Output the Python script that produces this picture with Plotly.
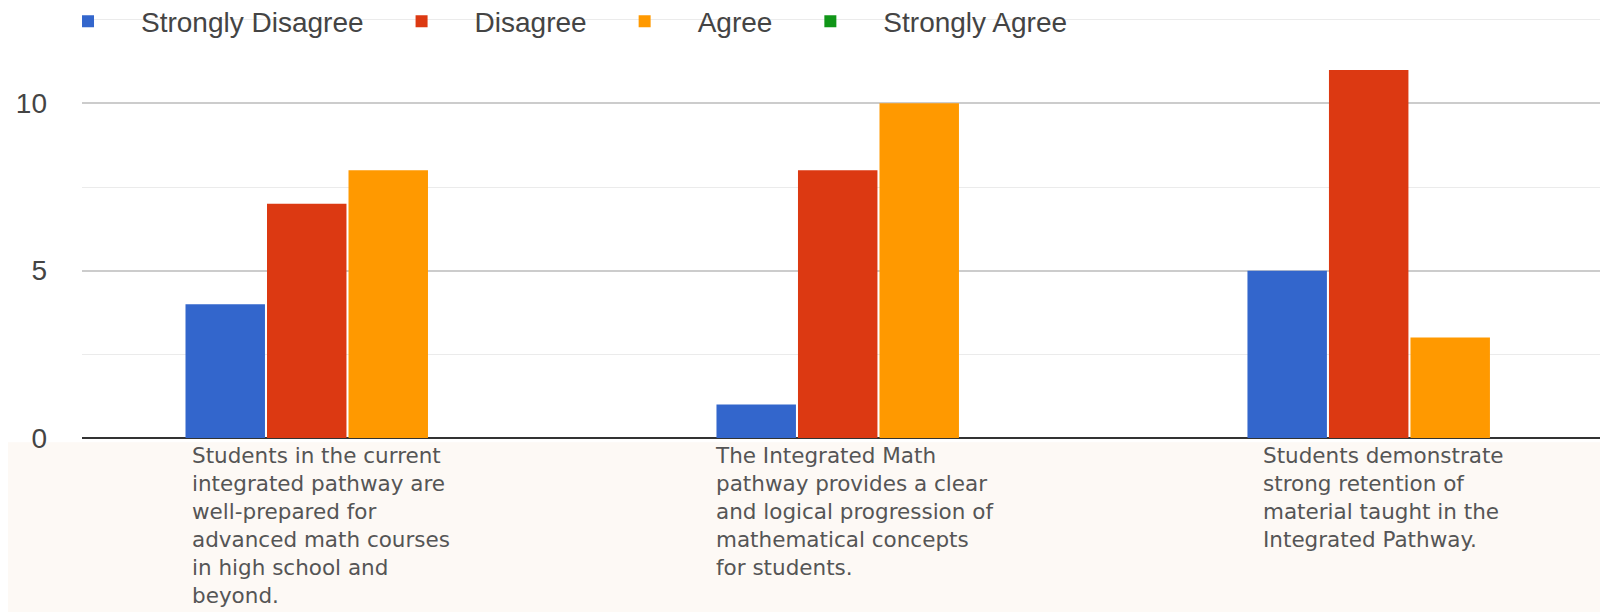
import plotly.graph_objects as go

categories = [
    "Students in the current<br>integrated pathway are<br>well-prepared for<br>advanced math courses<br>in high school and<br>beyond.",
    "The Integrated Math<br>pathway provides a clear<br>and logical progression of<br>mathematical concepts<br>for students.",
    "Students demonstrate<br>strong retention of<br>material taught in the<br>Integrated Pathway.",
]
series_names = ["Strongly Disagree", "Disagree", "Agree", "Strongly Agree"]
strongly_disagree = [4, 1, 5]
disagree = [7, 8, 11]
agree = [8, 10, 3]
strongly_agree = [0, 0, 0]
y_tick_vals = [0, 5, 10]
y_tick_text = ["0", "5", "10"]

colors = ["#3366cc", "#dc3912", "#ff9900", "#109618"]
values = [strongly_disagree, disagree, agree, strongly_agree]

xs = list(range(len(categories)))
fig = go.Figure()
for name, vals, col in zip(series_names, values, colors):
    fig.add_trace(go.Bar(x=xs, y=vals, name=name, marker=dict(color=col, line=dict(width=0))))

# background tint below axis
fig.add_shape(type="rect", xref="paper", yref="paper", x0=-0.1, x1=1.1, y0=-0.6, y1=-0.01,
              fillcolor="#fdf9f5", line=dict(width=0), layer="below")

label_offsets = [-0.296, -0.3115, -0.279]
for i, txt in enumerate(categories):
    fig.add_annotation(x=xs[i] + label_offsets[i], xref="x", y=-0.007, yref="paper",
                       text=txt, showarrow=False, xanchor="left", yanchor="top", align="left",
                       font=dict(family="DejaVu Sans, sans-serif", size=21.5, color="#555555"))

fig.update_layout(
    width=1608, height=612,
    margin=dict(l=74, r=0, t=5, b=182, autoexpand=False),
    paper_bgcolor="white", plot_bgcolor="white",
    barmode="group", bargap=0.386, bargroupgap=0.025,
    showlegend=True,
    legend=dict(orientation="h", xref="container", yref="container",
                x=0.0168, y=0.978, xanchor="left", yanchor="middle",
                bgcolor="rgba(0,0,0,0)",
                font=dict(family="Liberation Sans, Arial, sans-serif", size=28, color="#444444"),
                itemsizing="constant", itemwidth=96),
    xaxis=dict(range=[-0.5, 2.389], showticklabels=False, showgrid=False, zeroline=False,
               showline=False, fixedrange=True, automargin=False),
    yaxis=dict(range=[0, 12.7], tickvals=y_tick_vals, ticktext=y_tick_text,
               showgrid=True, gridcolor="#cccccc", gridwidth=1.5,
               minor=dict(dtick=2.5, showgrid=True, gridcolor="#ebebeb", gridwidth=1),
               zeroline=True, zerolinecolor="#333333", zerolinewidth=2,
               ticklabelstandoff=34, automargin=False,
               tickfont=dict(family="Liberation Sans, Arial, sans-serif", size=28, color="#444444")),
)

fig.write_html("out.html")
